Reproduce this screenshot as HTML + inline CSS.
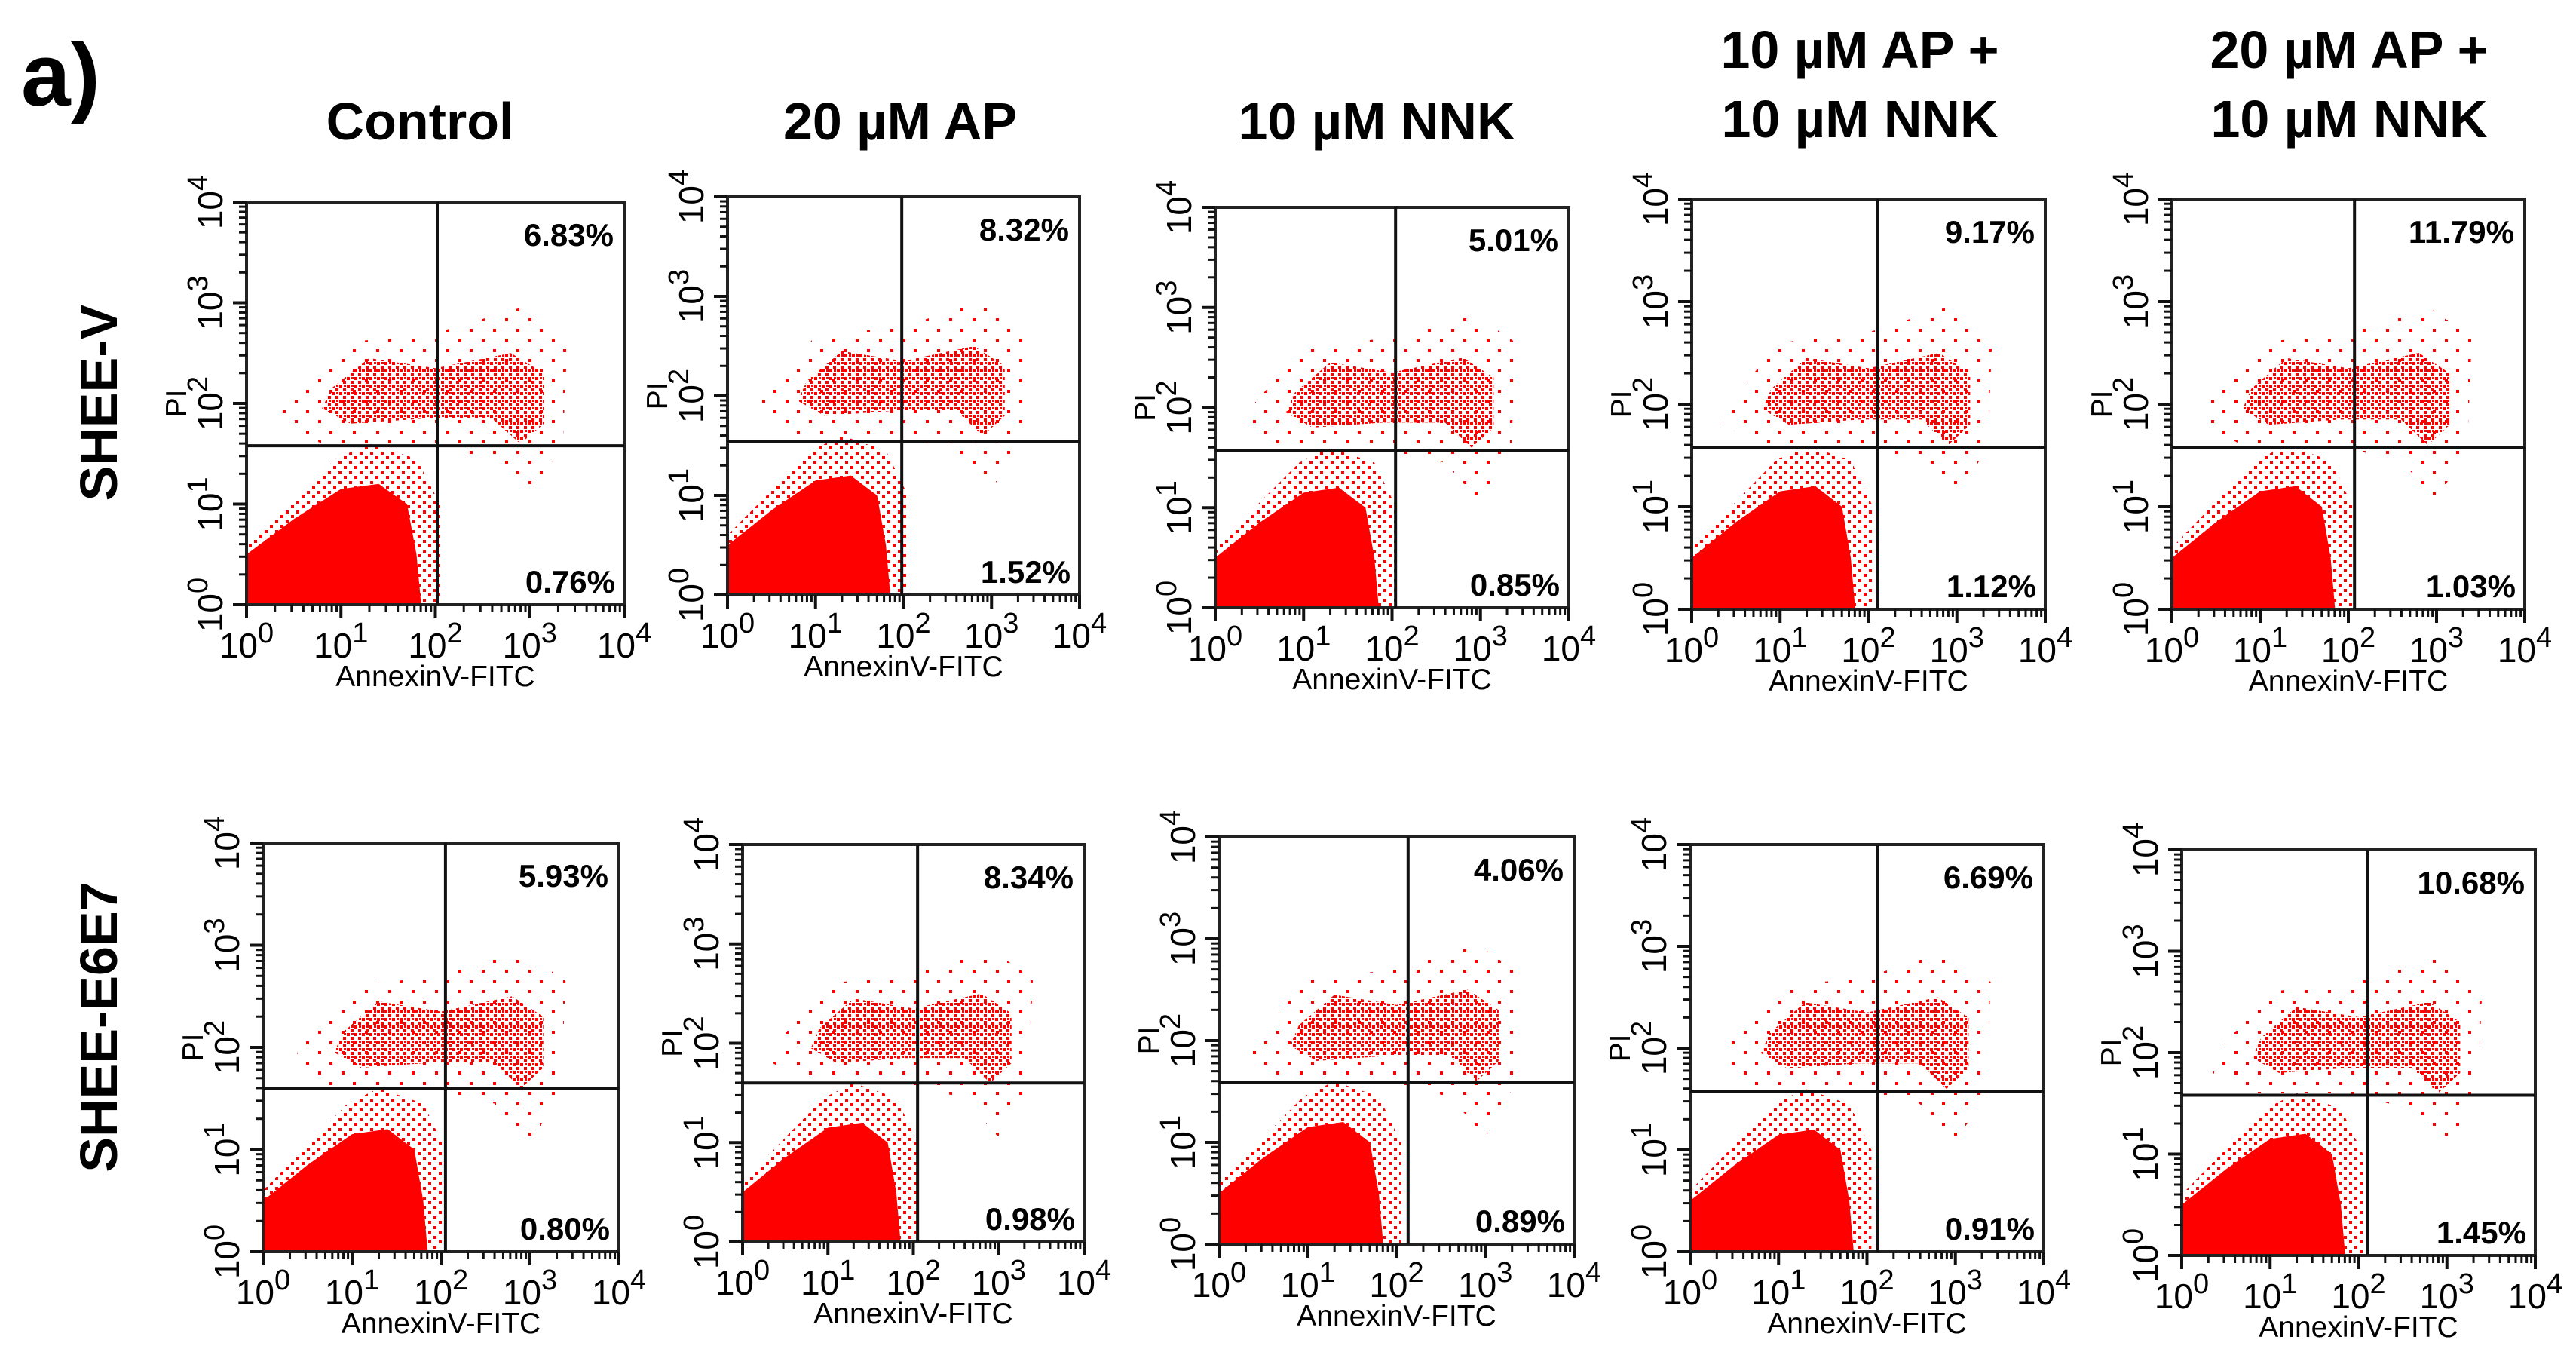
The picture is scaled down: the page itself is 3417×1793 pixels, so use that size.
<!DOCTYPE html>
<html><head><meta charset="utf-8"><style>
html,body{margin:0;padding:0;background:#fff}
svg{display:block}
text{font-family:"Liberation Sans",Arial,sans-serif}
</style></head><body>
<svg id="fig" width="3417" height="1793" viewBox="0 0 3417 1793">
<defs>
<pattern id="mid" width="10" height="10" patternUnits="userSpaceOnUse">
<rect x="0" y="0" width="4" height="4" fill="#f00"/><rect x="5" y="5" width="4" height="4" fill="#f00"/><rect x="6" y="0" width="3" height="3" fill="#f00"/>
</pattern>
<pattern id="light" width="14" height="13" patternUnits="userSpaceOnUse">
<rect x="1" y="1" width="4" height="4" fill="#f00"/><rect x="8" y="7" width="4" height="4" fill="#f00"/>
</pattern>
<pattern id="sparse" width="31" height="27" patternUnits="userSpaceOnUse">
<rect x="3" y="4" width="4" height="4" fill="#f00"/><rect x="19" y="17" width="4" height="4" fill="#f00"/>
</pattern>
</defs>
<text x="28" y="140" font-size="118" font-weight="bold">a)</text>
<g id="panels"></g>
</svg>
<script>
// column headers and row labels
const colTitles = [["Control"],["20 µM AP"],["10 µM NNK"],["10 µM AP +","10 µM NNK"],["20 µM AP +","10 µM NNK"]];
const rowLabels = ["SHEE-V","SHEE-E6E7"];
// quadrant percentages per panel (row-major)
const upperRight = ["6.83%","8.32%","5.01%","9.17%","11.79%","5.93%","8.34%","4.06%","6.69%","10.68%"];
const lowerRight = ["0.76%","1.52%","0.85%","1.12%","1.03%","0.80%","0.98%","0.89%","0.91%","1.45%"];
// gate positions in log10 units
const gateX = [2.02,1.98,2.04,2.1,2.07,2.05,2.05,2.13,2.12,2.1];
const gateY = [1.58,1.54,1.57,1.58,1.58,1.6,1.6,1.59,1.57,1.58];
// population outlines in log10 units [x,y]
const liveCore = [[0,0],[0,0.5],[0.5,0.85],[1.0,1.15],[1.4,1.2],[1.7,1.0],[1.8,0.5],[1.85,0]];
const liveHalo = [[0,0.6],[0.5,1.05],[0.95,1.45],[1.3,1.6],[1.8,1.45],[2.05,1.0],[2.05,0],[0,0]];
const bandCore = [[0.9,2.15],[1.3,2.45],[2.0,2.35],[2.8,2.5],[3.15,2.3],[3.15,1.8],[2.9,1.6],[2.6,1.85],[1.9,1.85],[1.1,1.8],[0.8,1.95]];
const bandHalo = [[0.4,2.0],[1.0,2.6],[2.0,2.7],[2.9,2.95],[3.4,2.65],[3.35,1.6],[3.0,1.05],[2.6,1.45],[1.8,1.6],[0.8,1.6],[0.35,1.8]];
const tickVals = [0,1,2,3,4];

const boxes = [[327,268,828,802],[965,261,1432,789],[1612,275,2081,806],[2244,264,2713,808],[2881,264,3349,808],
               [349,1118,821,1660],[985,1120,1438,1647],[1617,1110,2088,1650],[2242,1120,2711,1660],[2894,1127,3363,1665]];
const colCenters = [557,1194,1826,2467,3116];
const NS="http://www.w3.org/2000/svg";
const root=document.getElementById('panels');
function mk(tag,attrs,parent){const e=document.createElementNS(NS,tag);for(const k in attrs)e.setAttribute(k,attrs[k]);(parent||root).appendChild(e);return e;}

colTitles.forEach((lines,i)=>{
  const t=mk('text',{x:colCenters[i],'text-anchor':'middle','font-size':70,'font-weight':'bold'});
  
  
  lines.forEach((l,j)=>{const s=mk('tspan',{x:colCenters[i],y:lines.length==1?185:(90+j*92)},t);s.textContent=l;});
});
const rowY=[534,1362];
rowLabels.forEach((l,i)=>{
  const t=mk('text',{x:0,y:0,transform:`translate(155,${rowY[i]}) rotate(-90)`,'text-anchor':'middle','font-size':70,'font-weight':'bold'});
  
  
  t.textContent=l;
});

boxes.forEach((b,i)=>{
  const [x0,y0,x1,y1]=b;
  const sx=v=>x0+(x1-x0)*v/4, sy=v=>y1-(y1-y0)*v/4;
  const g=mk('g',{});
  
  
  const clip='clip'+i;
  const cp=mk('clipPath',{id:clip},g);mk('rect',{x:x0,y:y0,width:x1-x0,height:y1-y0},cp);
  const pg=mk('g',{'clip-path':`url(#${clip})`},g);
  const polyIn=(pts,fill,name)=>{const p=mk('polygon',{points:pts.map(q=>sx(q[0])+','+sy(q[1])).join(' '),fill:fill},pg);
    
    };
  polyIn(bandHalo,'url(#sparse)','necrotic-population-halo');
  polyIn(bandCore,'url(#mid)','late-apoptotic-population');
  polyIn(liveHalo,'url(#light)','live-population-halo');
  polyIn(liveCore,'#f00','live-population');
  mk('rect',{x:x0,y:y0,width:x1-x0,height:y1-y0,fill:'none',stroke:'#222','stroke-width':4},g);
  const gx=mk('line',{x1:sx(gateX[i]),x2:sx(gateX[i]),y1:y0,y2:y1,stroke:'#111','stroke-width':4},g);
  
  
  const gy=mk('line',{x1:x0,x2:x1,y1:sy(gateY[i]),y2:sy(gateY[i]),stroke:'#111','stroke-width':4},g);
  
  
  tickVals.forEach(v=>{
    mk('line',{x1:sx(v),x2:sx(v),y1:y1,y2:y1+18,stroke:'#111','stroke-width':4},g);
    mk('line',{x1:x0,x2:x0-18,y1:sy(v),y2:sy(v),stroke:'#111','stroke-width':4},g);
    if(v<4)for(let k=2;k<10;k++){const f=Math.log10(k);
      mk('line',{x1:sx(v+f),x2:sx(v+f),y1:y1,y2:y1+10,stroke:'#111','stroke-width':3},g);
      mk('line',{x1:x0,x2:x0-10,y1:sy(v+f),y2:sy(v+f),stroke:'#111','stroke-width':3},g);}
    const tx=mk('text',{x:sx(v),y:y1+70,'text-anchor':'middle','font-size':46},g);
    
    
    tx.innerHTML='10<tspan dy="-20" font-size="38">'+v+'</tspan>';
    const ty=mk('text',{x:0,y:0,transform:`translate(${x0-32},${sy(v)}) rotate(-90)`,'text-anchor':'middle','font-size':46},g);
    
    
    ty.innerHTML='10<tspan dy="-20" font-size="38">'+v+'</tspan>';
  });
  const xt=mk('text',{x:(x0+x1)/2,y:y1+108,'text-anchor':'middle','font-size':39},g);
  
  
  xt.textContent='AnnexinV-FITC';
  const yt=mk('text',{x:0,y:0,transform:`translate(${x0-80},${sy(2)}) rotate(-90)`,'text-anchor':'middle','font-size':39},g);
  
  
  yt.textContent='PI';
  const ur=mk('text',{x:x1-14,y:y0+58,'text-anchor':'end','font-size':42,'font-weight':'bold'},g);
  
  
  ur.textContent=upperRight[i];
  const lr=mk('text',{x:x1-12,y:y1-16,'text-anchor':'end','font-size':42,'font-weight':'bold'},g);
  
  
  lr.textContent=lowerRight[i];
});
</script>
</body></html>
